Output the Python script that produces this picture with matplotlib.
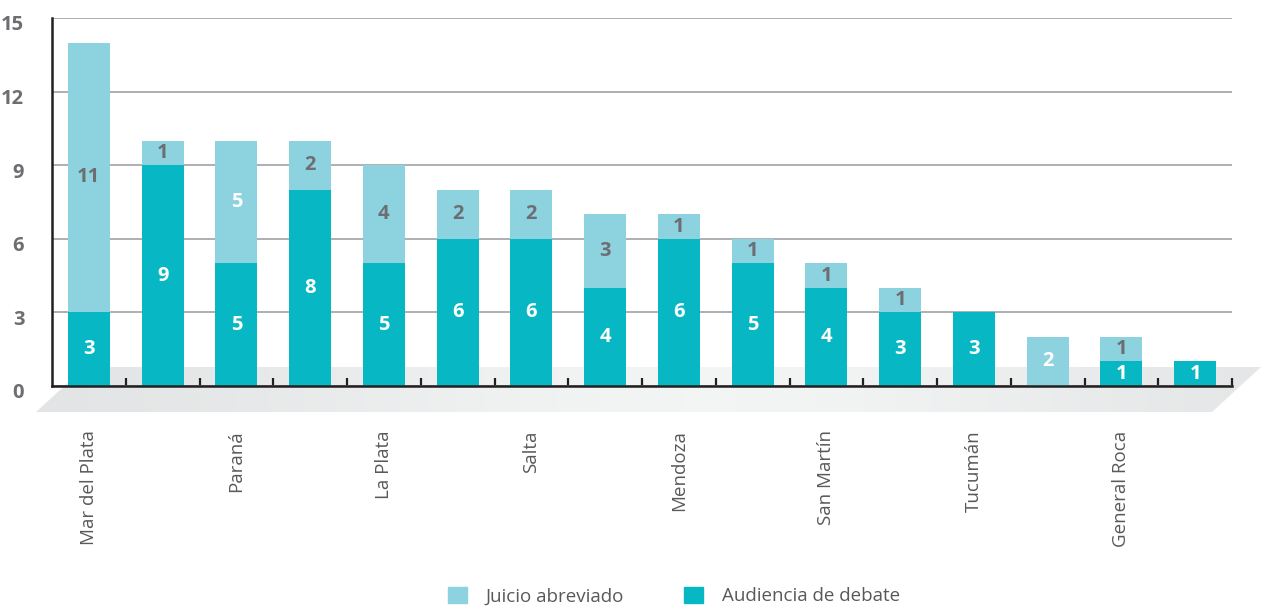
import numpy as np
import matplotlib
matplotlib.use('Agg')
import matplotlib.pyplot as plt
from matplotlib.patches import Polygon, Patch

plt.rcParams['font.family'] = ['Open Sans', 'DejaVu Sans']

# data (only every other category name is shown)
categories = ['Mar del Plata', '', 'Paraná', '', 'La Plata', '', 'Salta', '',
              'Mendoza', '', 'San Martín', '', 'Tucumán', '', 'General Roca', '']
debate = [3, 9, 5, 8, 5, 6, 6, 4, 6, 5, 4, 3, 3, 0, 1, 1]
abreviado = [11, 1, 5, 2, 4, 2, 2, 3, 1, 1, 1, 1, 0, 2, 1, 0]
yticks = [0, 3, 6, 9, 12, 15]

c_light = '#8dd3df'
c_dark = '#07b8c4'
c_grey = '#6d6e71'
c_text = '#58595b'

W, H = 1261, 606
fig = plt.figure(figsize=(W / 100, H / 100), dpi=100)

# background layer in pixel coordinates for the "floor"
bg = fig.add_axes([0, 0, 1, 1], zorder=0)
bg.set_xlim(0, W)
bg.set_ylim(H, 0)
bg.axis('off')
floor = Polygon([(36, 412), (85, 367), (1261, 367), (1212, 412)], closed=True,
                facecolor='none', edgecolor='none')
bg.add_patch(floor)
grad = np.linspace(0, 1, 256)
grad = 1 - np.exp(-((grad - 0.55) / 0.35) ** 2)
img = bg.imshow(grad[np.newaxis, :], extent=(36, 1261, 412, 367), aspect='auto',
                cmap=matplotlib.colors.LinearSegmentedColormap.from_list(
                    'fl', ['#f3f4f4', '#e2e3e4']), vmin=0, vmax=1)
img.set_clip_path(floor)

ax = fig.add_axes([52 / W, 1 - 386 / H, (1232 - 52) / W, (386 - 18) / H], zorder=1)
ax.patch.set_alpha(0)

x = np.arange(len(categories))
bw = 0.57
ax.bar(x, debate, bw, color=c_dark, zorder=3)
ax.bar(x, abreviado, bw, bottom=debate, color=c_light, zorder=3)

for i in x:
    if debate[i]:
        ax.text(i, debate[i] / 2, str(debate[i]), ha='center', va='center',
                color='white', fontsize=14.5, fontweight='bold', zorder=4)
    if abreviado[i]:
        col = 'white' if i in (2, 13) else c_grey
        ax.text(i, debate[i] + abreviado[i] / 2, str(abreviado[i]), ha='center',
                va='center', color=col, fontsize=14.5, fontweight='bold', zorder=4)

ax.set_xlim(-0.5, len(categories) - 0.5)
ax.set_ylim(0, 15)
ax.set_yticks(yticks)
ax.yaxis.grid(True, color='#a7a9ac', linewidth=1.3, zorder=0)
ax.set_axisbelow(True)
ax.tick_params(axis='y', length=0, pad=20, labelsize=14.5, labelcolor=c_grey)
for lab in ax.get_yticklabels():
    lab.set_fontweight('bold')
    lab.set_transform(lab.get_transform() + matplotlib.transforms.ScaledTranslation(0, -5 / 100, fig.dpi_scale_trans))

ax.set_xticks(x)
ax.set_xticklabels(categories, rotation=90, va='top', color=c_text, fontsize=13.5)
ax.tick_params(axis='x', which='major', length=0, pad=32)
ax.set_xticks(np.arange(0.5, len(categories)), minor=True)
ax.tick_params(axis='x', which='minor', direction='in', length=6, width=1.6, color='#231f20')

for s in ['top', 'right']:
    ax.spines[s].set_visible(False)
for s in ['left', 'bottom']:
    ax.spines[s].set_color('#231f20')
    ax.spines[s].set_linewidth(1.8)
    ax.spines[s].set_zorder(5)

handles = [Patch(color=c_light), Patch(color=c_dark)]
fig.legend(handles, ['Juicio abreviado', 'Audiencia de debate'], loc='center',
           bbox_to_anchor=(674 / W, 1 - 596 / H), ncol=2, frameon=False,
           fontsize=13.5, labelcolor=c_text, handlelength=1.0, handleheight=1.0,
           columnspacing=3.2, handletextpad=1.0)

fig.savefig('out.png', dpi=100)
